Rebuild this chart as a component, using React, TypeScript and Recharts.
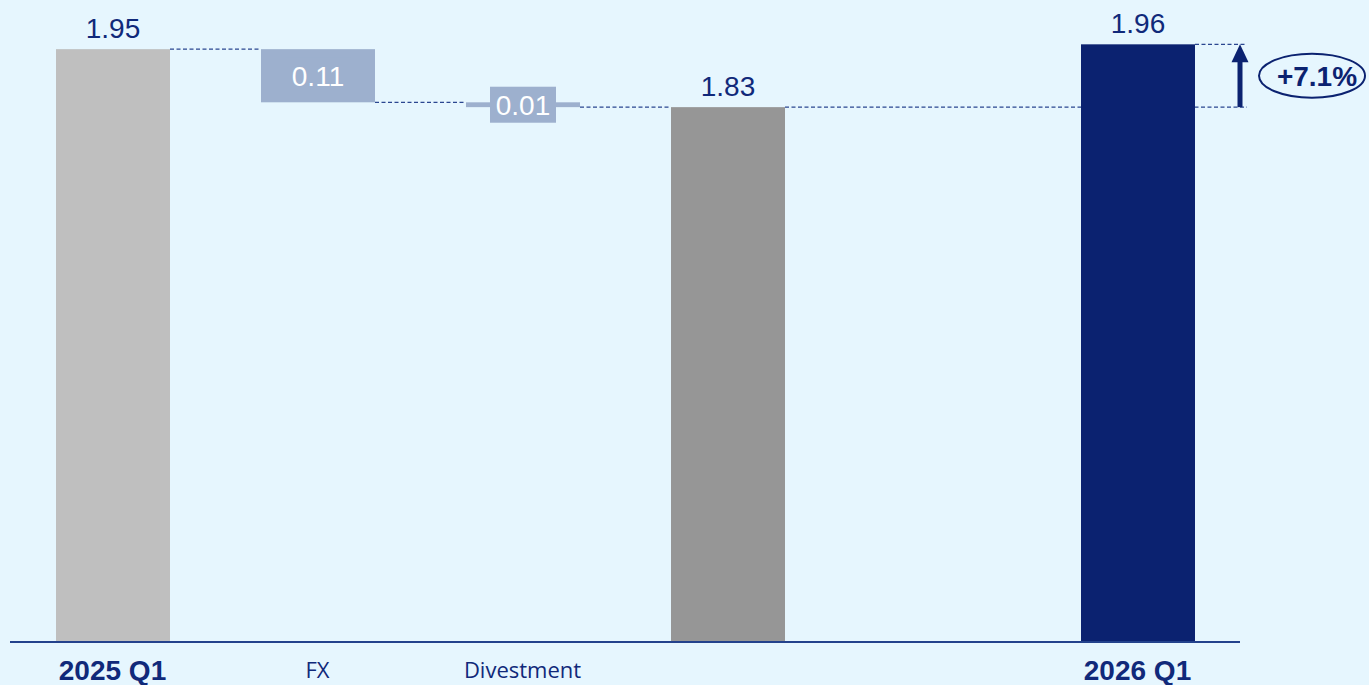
import React from "react";
import { BarChart, Bar, XAxis, YAxis, LabelList } from "recharts";

// ---- data ----
const categories = ["2025 Q1", "FX", "Divestment", "", "", "2026 Q1"];
const kinds = ["start", "delta", "delta", "subtotal", "blank", "end"];
const values: (number | null)[] = [1.95, -0.11, -0.01, 1.83, null, 1.96];

// ---- layout / style ----
const W = 1369;
const H = 685;
const MARGIN = { top: 25, right: 129, bottom: 0, left: 10 };
const X_AXIS_H = 43;
const AXIS_MIN = 0.723;
const AXIS_MAX = 2.0;
const BAND = (W - MARGIN.left - MARGIN.right) / categories.length;
const BAR_SIZE = 114;

const BG = "#E6F6FE";
const NAVY = "#0B2270";
const TEXT_NAVY = "#10297A";
const AXIS_COLOR = "#23428C";
const DASH_COLOR = "#2A4690";
const COLORS: Record<string, string> = {
  start: "#BFBFBF",
  delta: "#9DB0CE",
  subtotal: "#969696",
  end: NAVY,
};

type Row = {
  name: string;
  kind: string;
  range: [number, number] | null;
  amount: number | null;
  sign: number;
};

let running = 0;
const data: Row[] = categories.map((name, i) => {
  const v = values[i];
  const kind = kinds[i];
  if (v == null) return { name, kind, range: null, amount: null, sign: 0 };
  if (kind === "delta") {
    const a = running;
    const b = running + v;
    running = b;
    return {
      name,
      kind,
      range: [Math.min(a, b), Math.max(a, b)],
      amount: Math.abs(v),
      sign: Math.sign(v),
    };
  }
  running = v;
  return { name, kind, range: [AXIS_MIN, v], amount: v, sign: 1 };
});

const endIndex = kinds.indexOf("end");
const subIndex = kinds.indexOf("subtotal");
const subValue = values[subIndex] as number;
const endValue = values[endIndex] as number;
const pctText = `+${(((endValue - subValue) / subValue) * 100).toFixed(1)}%`;

const DASH_EXT = 52;
const ARROW_GAP = 45;

const dashProps = {
  stroke: DASH_COLOR,
  strokeWidth: 1.3,
  strokeDasharray: "4 2.5",
};

const WaterfallShape = (props: any) => {
  const { x, y, width, height, payload, index } = props;
  if (payload == null || payload.range == null) return null;
  const top = Math.min(y, y + height);
  const h = Math.abs(height);
  const bottom = top + h;
  const right = x + width;
  const kind = payload.kind;
  const fill = COLORS[kind];
  const endY = kind === "delta" ? (payload.sign < 0 ? bottom : top) : top;

  const extras: React.ReactNode[] = [];
  if (kind === "start" || kind === "delta") {
    extras.push(
      <line key="c" x1={right} x2={x + BAND} y1={endY} y2={endY} {...dashProps} />
    );
  }
  if (kind === "subtotal") {
    const steps = endIndex - index;
    extras.push(
      <line
        key="c"
        x1={right}
        x2={x + steps * BAND + width + DASH_EXT}
        y1={endY}
        y2={endY}
        {...dashProps}
      />
    );
  }
  if (kind === "end") {
    const refY = bottom - (h * (subValue - AXIS_MIN)) / (endValue - AXIS_MIN);
    const ax = right + ARROW_GAP;
    const cy = (top + refY) / 2;
    extras.push(
      <line key="t" x1={right} x2={right + DASH_EXT} y1={top} y2={top} {...dashProps} />,
      <line key="shaft" x1={ax} x2={ax} y1={refY} y2={top + 16} stroke={NAVY} strokeWidth={5} />,
      <polygon
        key="head"
        points={`${ax},${top} ${ax - 8.5},${top + 18} ${ax + 8.5},${top + 18}`}
        fill={NAVY}
      />,
      <ellipse
        key="el"
        cx={right + 117}
        cy={cy}
        rx={53}
        ry={22}
        fill={BG}
        stroke={NAVY}
        strokeWidth={2}
      />,
      <text
        key="pct"
        x={right + 122}
        y={cy + 10}
        textAnchor="middle"
        fontFamily="'Liberation Sans', Arial, sans-serif"
        fontWeight="bold"
        fontSize={28}
        fill={NAVY}
      >
        {pctText}
      </text>
    );
  }
  return (
    <g>
      {extras}
      <rect x={x} y={top} width={width} height={h} fill={fill} />
    </g>
  );
};

const ValueLabel = (props: any) => {
  const { x, y, width, height, value, index } = props;
  if (value == null) return null;
  const row = data[index];
  if (!row) return null;
  const top = Math.min(y, y + height);
  const h = Math.abs(height);
  const cx = x + width / 2;
  const txt = Number(value).toFixed(2);
  if (row.kind === "delta") {
    const cy = top + h / 2;
    return (
      <g>
        <rect x={cx - 33} y={cy - 18} width={66} height={36} fill={COLORS.delta} />
        <text
          x={cx}
          y={cy + 10}
          textAnchor="middle"
          fontFamily="'Liberation Sans', Arial, sans-serif"
          fontSize={28}
          fill="#FFFFFF"
        >
          {txt}
        </text>
      </g>
    );
  }
  return (
    <text
      x={cx}
      y={top - 11}
      textAnchor="middle"
      fontFamily="'Liberation Sans', Arial, sans-serif"
      fontSize={28}
      fill={TEXT_NAVY}
    >
      {txt}
    </text>
  );
};

const CategoryTick = (props: any) => {
  const { x, y, payload } = props;
  const idx = payload && payload.index != null ? payload.index : categories.indexOf(payload.value);
  const kind = kinds[idx];
  const label = categories[idx];
  if (!label) return null;
  const bold = kind === "start" || kind === "end";
  return bold ? (
    <text
      x={x}
      y={y + 38}
      textAnchor="middle"
      fontFamily="'Liberation Sans', Arial, sans-serif"
      fontWeight="bold"
      fontSize={28}
      fill={TEXT_NAVY}
    >
      {label}
    </text>
  ) : (
    <text
      x={x}
      y={y + 36}
      textAnchor="middle"
      fontFamily="'Open Sans', 'Noto Sans', sans-serif"
      fontSize={22}
      fill={TEXT_NAVY}
    >
      {label}
    </text>
  );
};

export default function App() {
  return (
    <div
      style={{
        position: "absolute",
        left: 0,
        top: 0,
        width: W,
        height: H,
        background: BG,
        overflow: "hidden",
      }}
    >
      <BarChart width={W} height={H} data={data} margin={MARGIN} barSize={BAR_SIZE}>
        <XAxis
          dataKey="name"
          height={X_AXIS_H}
          interval={0}
          tickLine={false}
          tickSize={0}
          tickMargin={0}
          axisLine={{ stroke: AXIS_COLOR, strokeWidth: 2 }}
          tick={<CategoryTick />}
        />
        <YAxis hide width={0} type="number" domain={[AXIS_MIN, AXIS_MAX]} />
        <Bar dataKey="range" isAnimationActive={false} shape={<WaterfallShape />}>
          <LabelList dataKey="amount" content={<ValueLabel />} />
        </Bar>
      </BarChart>
    </div>
  );
}
